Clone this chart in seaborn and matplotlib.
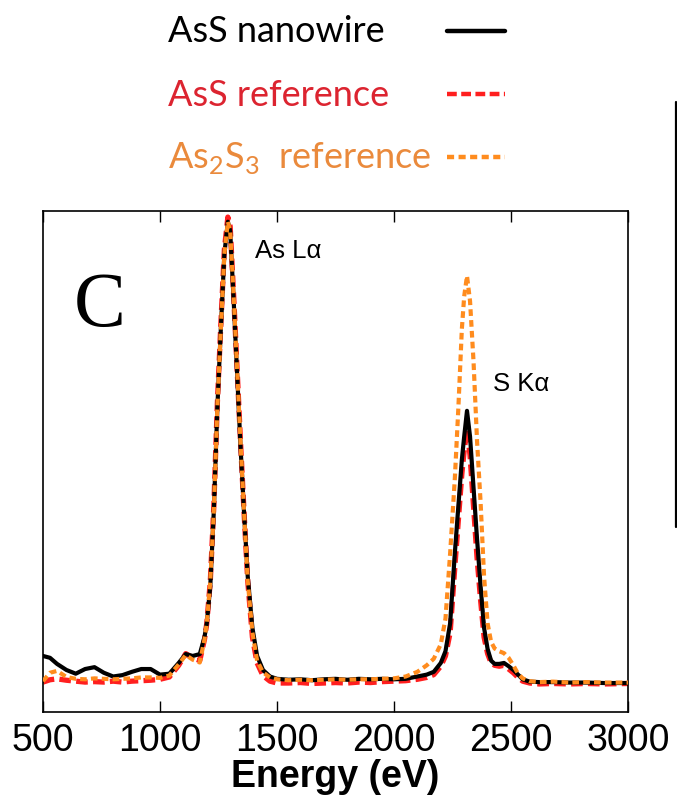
#EDX spectra of AsS nanowire vs AsS and As2S3 references
import numpy as np
import pandas as pd
import matplotlib.pyplot as plt
import seaborn as sns
from matplotlib.lines import Line2D

# energy grid (eV)
energy = [500, 530, 560, 600, 640, 680, 720, 760, 800, 840, 880, 920, 960, 1000,
          1040, 1080, 1110, 1140, 1170, 1190, 1200, 1215, 1230, 1245, 1260, 1275,
          1290, 1300, 1315, 1330, 1345, 1360, 1375, 1395, 1415, 1440, 1470, 1500,
          1550, 1600, 1650, 1700, 1750, 1800, 1850, 1900, 1950, 2000, 2050, 2100,
          2140, 2170, 2200, 2220, 2240, 2260, 2275, 2290, 2300, 2312, 2325, 2340,
          2355, 2370, 2385, 2400, 2415, 2430, 2450, 2470, 2490, 2510, 2530, 2550,
          2580, 2620, 2680, 2750, 2820, 2900, 3000]

# intensities (arb. units, As La peak ~ 100)
nanowire = [6.0, 5.6, 4.3, 3.0, 2.2, 3.2, 3.6, 2.4, 1.6, 1.9, 2.6, 3.2, 3.2, 2.0,
            2.2, 4.5, 6.4, 6.0, 6.4, 10.0, 13.0, 21.0, 37.0, 59.0, 76.0, 92.0,
            99.0, 97.0, 82.0, 66.0, 50.0, 36.0, 23.0, 12.0, 6.0, 3.0, 1.6, 1.1,
            0.9, 1.0, 0.8, 1.0, 1.1, 0.9, 1.1, 1.0, 1.1, 1.0, 1.1, 1.6,
            2.0, 2.6, 4.5, 7.0, 13.0, 28.0, 38.0, 48.0, 53.0, 58.5, 53.0, 42.0,
            31.0, 21.0, 12.0, 7.5, 5.0, 4.3, 4.3, 4.5, 3.8, 3.0, 2.0, 1.0,
            0.5, 0.4, 0.4, 0.3, 0.3, 0.2, 0.2]

ass_ref = [0.4, 0.9, 1.1, 0.8, 0.6, 0.4, 0.5, 0.4, 0.6, 0.4, 0.6, 0.7, 0.8, 1.0,
           1.5, 4.0, 6.5, 5.6, 5.0, 9.5, 13.0, 22.0, 38.0, 60.0, 77.0, 93.0,
           100.0, 98.0, 83.0, 67.0, 51.0, 36.0, 22.0, 10.0, 4.5, 1.8, 0.6, 0.2,
           0.2, 0.3, 0.1, 0.2, 0.3, 0.2, 0.4, 0.3, 0.5, 0.6, 0.7, 1.0,
           1.4, 2.0, 3.8, 6.0, 11.0, 25.0, 35.0, 45.0, 50.0, 54.5, 49.0, 38.0,
           27.0, 18.0, 10.0, 6.5, 4.5, 4.0, 3.8, 4.0, 3.2, 2.4, 1.4, 0.6,
           0.2, 0.0, 0.1, 0.0, 0.1, 0.0, 0.1]

as2s3_ref = [0.6, 2.4, 2.8, 1.5, 1.1, 1.0, 1.2, 1.1, 1.0, 1.1, 1.2, 1.4, 1.4, 1.3,
             1.8, 4.2, 6.2, 5.2, 4.6, 9.5, 13.0, 22.0, 37.0, 59.0, 76.0, 92.0,
             99.0, 97.0, 83.0, 67.0, 51.0, 36.0, 22.0, 11.0, 5.0, 2.5, 1.4, 1.0,
             0.8, 0.9, 0.8, 0.9, 1.0, 0.9, 1.0, 1.0, 1.1, 1.2, 1.6, 2.6,
             4.0, 5.4, 8.5, 14.0, 28.0, 44.0, 59.0, 76.0, 83.0, 87.4, 82.0, 69.0,
             52.0, 39.0, 23.0, 13.0, 9.0, 7.6, 7.0, 6.6, 5.6, 4.0, 2.2, 1.2,
             0.6, 0.4, 0.5, 0.3, 0.4, 0.3, 0.3]

xticks = [500, 1000, 1500, 2000, 2500, 3000]

df = pd.DataFrame({'energy': energy, 'nanowire': nanowire,
                   'ass': ass_ref, 'as2s3': as2s3_ref})

sns.set_theme(style='white')
plt.rcParams['font.family'] = ['Liberation Sans', 'DejaVu Sans']
plt.rcParams['mathtext.fontset'] = 'custom'
plt.rcParams['mathtext.rm'] = 'Lato'
plt.rcParams['text.color'] = 'black'
plt.rcParams['axes.labelcolor'] = 'black'
plt.rcParams['xtick.color'] = 'black'

red = '#ff1f1f'
orange = '#ff8c1e'

fig = plt.figure(figsize=(6.77, 8.03), dpi=100)
ax = fig.add_axes([0.0635, 0.1121, 0.8641, 0.6239])

sns.lineplot(data=df, x='energy', y='ass', ax=ax, color=red, lw=3.8,
             zorder=2).lines[-1].set_dashes((2.2, 1.0))
sns.lineplot(data=df, x='energy', y='nanowire', ax=ax, color='black', lw=3.0, zorder=3)
sns.lineplot(data=df, x='energy', y='as2s3', ax=ax, color=orange, lw=3.0,
             zorder=4).lines[-1].set_dashes((1.6, 1.0))

ax.set_xlim(500, 3000)
ax.set_ylim(-6.0, 101.3)
ax.set_xticks(xticks)
ax.set_xticklabels([str(t) for t in xticks], fontsize=27)
ax.set_yticks([])
ax.tick_params(axis='x', direction='in', length=8, width=1, top=True, bottom=True,
               color='black', pad=7)
ax.set_xlabel('Energy (eV)', fontsize=27, fontweight='bold', labelpad=0)
ax.set_ylabel('')
for s in ax.spines.values():
    s.set_color('black')
    s.set_linewidth(1.2)

ax.text(1405, 93, 'As Lα', fontsize=18.5, ha='left', va='center')
ax.text(2423, 64.5, 'S Kα', fontsize=18.5, ha='left', va='center')
ax.text(0.097, 0.81, 'C', transform=ax.transAxes, fontsize=56,
        family='Liberation Serif', ha='center', va='center')

# legend above the axes, text left and line sample right
rows = [('AsS nanowire', 'black', 'black', '-'),
        ('AsS reference', '#dc2430', red, (0, (2.2, 1.0))),
        ('As$_2$S$_3$  reference', '#ea8a3c', orange, (0, (1.6, 1.0)))]
for i, (lab, tcol, lcol, ls) in enumerate(rows):
    yc = 1 - (32 + 63 * i) / 803
    fig.text(168 / 677, yc, lab, color=tcol, fontsize=26, family='Lato',
             ha='left', va='center')
    fig.add_artist(Line2D([447 / 677, 505 / 677], [yc, yc], color=lcol,
                          lw=3.2, linestyle=ls))

# partial frame line at the right edge
fig.add_artist(Line2D([676 / 677, 676 / 677], [1 - 103 / 803, 1 - 528 / 803],
                      color='black', lw=1.6))

fig.savefig('out.png', dpi=100)
